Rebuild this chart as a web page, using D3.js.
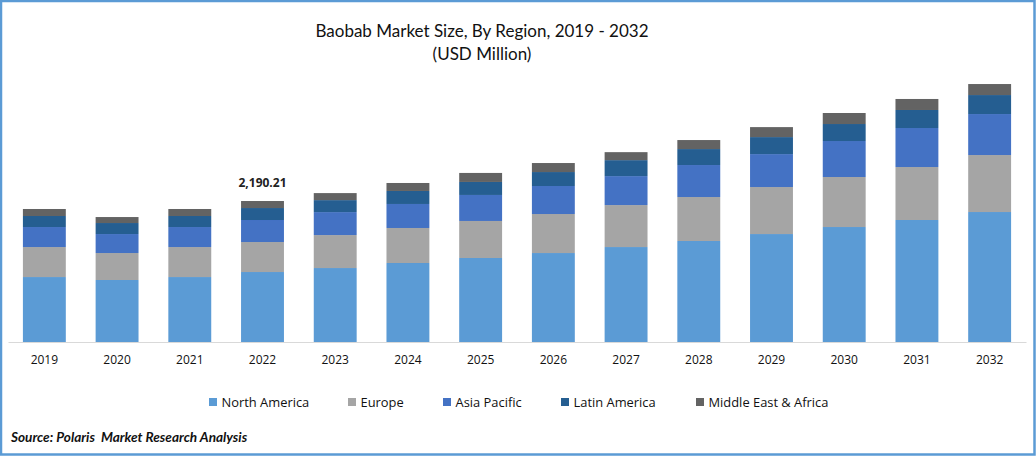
<!DOCTYPE html>
<html><head><meta charset="utf-8">
<script src="https://cdn.jsdelivr.net/npm/d3@7/dist/d3.min.js"></script>
<style>html,body{margin:0;padding:0;background:#fff}svg{display:block}</style>
</head><body><svg id="c" width="1036" height="456"></svg>
<script>
const years=["2019","2020","2021","2022","2023","2024","2025","2026","2027","2028","2029","2030","2031","2032"];
const regions=["North America","Europe","Asia Pacific","Latin America","Middle East & Africa"];
const colors=["#5B9BD5","#A5A5A5","#4472C4","#255E91","#636363"];
const northAmerica=[1009,963,1009,1087,1149,1227,1305,1382,1475,1569,1677,1786,1895,2019];
const europe=[466,419,466,466,512,544,575,606,652,683,730,777,823,885];
const asiaPacific=[311,295,311,342,357,373,404,435,450,497,512,559,606,637];
const latinAmerica=[171,171,171,186,186,202,202,217,248,248,264,264,280,295];
const middleEastAfrica=[109,93,109,109,109,124,140,140,124,140,155,171,171,171];
const annotationYear="2022", annotationText="2,190.21";
const seriesValues=[northAmerica,europe,asiaPacific,latinAmerica,middleEastAfrica];
const rows=years.map((y,i)=>{const r={year:y};regions.forEach((n,k)=>r[n]=seriesValues[k][i]);return r;});
const stacked=d3.stack().keys(regions)(rows);
const svg=d3.select("#c");
const x=d3.scaleBand().domain(years).range([8,1026]).paddingInner(0.41).paddingOuter(0.205);
const y=d3.scaleLinear().domain([0,2190.21]).range([342,201]);
const sans="'Open Sans',sans-serif", cal="Lato,sans-serif";
svg.append("rect").attr("x",1).attr("y",1).attr("width",1033.5).attr("height",453.5).attr("fill","#fff").attr("stroke","#5B9BD5").attr("stroke-width",2.5);
svg.append("g").selectAll("g").data(stacked).join("g").attr("fill",(d,i)=>colors[i])
 .selectAll("rect").data(d=>d).join("rect")
 .attr("x",d=>x(d.data.year)).attr("width",x.bandwidth())
 .attr("y",d=>y(d[1])).attr("height",d=>y(d[0])-y(d[1]));
const ax=svg.append("g").attr("transform","translate(0,342)").call(d3.axisBottom(x).tickSize(0).tickPadding(13));
ax.select(".domain").attr("stroke","#D9D9D9").attr("stroke-width",1.2);
ax.selectAll("text").attr("font-family",sans).attr("font-size",12).attr("fill","#111");
svg.append("text").attr("x",482).attr("y",37).attr("text-anchor","middle").attr("font-family",cal).attr("font-size",17).attr("fill","#111").text("Baobab Market Size, By Region, 2019 - 2032");
svg.append("text").attr("x",482).attr("y",60).attr("text-anchor","middle").attr("font-family",cal).attr("font-size",17).attr("fill","#111").text("(USD Million)");
const total=d3.sum(seriesValues,s=>s[years.indexOf(annotationYear)]);
svg.append("text").attr("x",x(annotationYear)+x.bandwidth()/2).attr("y",y(total)-14).attr("text-anchor","middle").attr("font-family",sans).attr("font-weight",700).attr("font-size",12).attr("fill","#222").text(annotationText);
const legX=[209,348,443,561,696];
const lg=svg.append("g").selectAll("g").data(regions).join("g").attr("transform",(d,i)=>`translate(${legX[i]},398)`);
lg.append("rect").attr("width",8).attr("height",8).attr("fill",(d,i)=>colors[i]);
lg.append("text").attr("x",12.5).attr("y",9).attr("font-family",sans).attr("font-size",12.9).attr("fill","#111").text(d=>d);
svg.append("text").attr("x",11).attr("y",442).attr("font-family",cal).attr("font-style","italic").attr("font-weight",700).attr("font-size",13.6).attr("fill","#111").style("white-space","pre").text("Source: Polaris  Market Research Analysis");
</script></body></html>
